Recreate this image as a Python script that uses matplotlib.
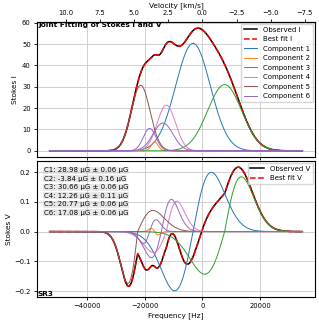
import numpy as np
import matplotlib.pyplot as plt

plt.rcParams['font.size'] = 5.0

#---    Gaussian components (offsets in Hz)
comp_names = ['Component 1', 'Component 2', 'Component 3', 'Component 4',
              'Component 5', 'Component 6', None]
comp_colors = ['tab:blue', 'tab:orange', 'tab:green', 'tab:pink',
               'tab:brown', 'tab:purple', 'tab:purple']
amp_I = [50.3, 4.2, 31.0, 21.4, 30.7, 13.0, 10.5]
cen_I = [-3240, -16530, 7730, -12480, -21380, -13650, -18270]
sig_I = [6000, 1200, 5900, 3190, 3240, 3440, 2200]

#---    Stokes V lobes per component: zero crossing, widths, lobe heights
cen_V = [-3240, -16530, 7730, -12480, -22425, -14200, -18270]
sigL_V = [6360, 1200, 6930, 4500, 3360, 3470, 2200]
sigR_V = [6360, 1200, 5770, 3650, 5300, 3470, 2200]
ampL_V = [0.199, -0.011, 0.143, 0.07, 0.174, 0.088, 0.04]
ampR_V = [0.199, -0.011, 0.184, 0.102, 0.071, 0.108, 0.04]

# fitted fields
b_field = [28.98, -3.84, 30.66, 12.26, 20.77, 17.08]
b_err = [0.06, 0.16, 0.06, 0.11, 0.06, 0.06]

freq = np.linspace(-52950, 34680, 1200)

c_kms = 299792.458
f0 = 1420405751.77


def f2v(f):
    return -c_kms * f / f0


def v2f(v):
    return -v * f0 / c_kms


def lobe(f, c, sl, sr, al, ar):
    s = np.where(f < c, sl, sr)
    a = np.where(f < c, al, ar)
    u = (f - c) / s
    return a * u * np.exp((1 - u**2) / 2)


comps_I = [a * np.exp(-(freq - c)**2 / (2 * s**2)) for a, c, s in zip(amp_I, cen_I, sig_I)]
comps_V = [lobe(freq, *p) for p in zip(cen_V, sigL_V, sigR_V, ampL_V, ampR_V)]
fit_I = np.sum(comps_I, axis=0)
fit_V = np.sum(comps_V, axis=0)

fig = plt.figure(figsize=(3.19, 3.21), dpi=100)
ax1 = fig.add_axes([37/319, 1 - 157/321, 278/319, 135/321])
ax2 = fig.add_axes([37/319, 1 - 297/321, 278/319, 136/321], sharex=ax1)

# Stokes I
ax1.plot(freq, fit_I, color='black', linewidth=1.1, label='Observed I')
ax1.plot(freq, fit_I, color='red', linestyle='--', linewidth=1.1, label='Best fit I')
for comp, col, name in zip(comps_I, comp_colors, comp_names):
    ax1.plot(freq, comp, color=col, linewidth=0.7, label=name if name else '_nolegend_')
ax1.set_ylabel('Stokes I', fontsize=5.3, labelpad=3)
ax1.grid(True, color='#d0d0d0', linewidth=0.7)
ax1.tick_params(labelbottom=False, length=2.5, width=0.6, pad=2, labelsize=4.9)
ax1.legend(loc='upper right', fontsize=5.0, framealpha=0.8, borderaxespad=0.3)
ax1.text(0.005, 1.0, 'Joint Fitting of Stokes I and V', transform=ax1.transAxes,
         va='top', ha='left', fontsize=5.3, weight='bold')

secax = ax1.secondary_xaxis('top', functions=(f2v, v2f))
secax.set_xticks([10, 7.5, 5, 2.5, 0, -2.5, -5, -7.5])
secax.tick_params(length=2.5, width=0.6, pad=2, labelsize=4.9)
secax.set_xlabel('Velocity [km/s]', labelpad=2, fontsize=5.3)

# Stokes V
ax2.plot(freq, fit_V, color='black', linewidth=1.1, label='Observed V')
ax2.plot(freq, fit_V, color='red', linestyle='--', linewidth=1.1, label='Best fit V')
for comp, col in zip(comps_V, comp_colors):
    ax2.plot(freq, comp, color=col, linewidth=0.7)
ax2.set_ylabel('Stokes V', fontsize=5.3, labelpad=2)
ax2.set_xlabel('Frequency [Hz]', labelpad=2, fontsize=5.3)
ax2.set_xticks([-40000, -20000, 0, 20000])
ax2.tick_params(length=2.5, width=0.6, pad=2, labelsize=4.9)
ax2.grid(True, color='#d0d0d0', linewidth=0.7)
ax2.legend(loc='upper right', fontsize=5.0, framealpha=0.8, borderaxespad=0.3)

for i, (b, e) in enumerate(zip(b_field, b_err)):
    ax2.text(0.025, 0.955 - i * 0.0625, 'C%d: %.2f \u03bcG \u00b1 %.2f \u03bcG' % (i + 1, b, e),
             transform=ax2.transAxes, va='top', ha='left', fontsize=5.0,
             bbox=dict(facecolor='lightgray', alpha=0.5, edgecolor='none', pad=0.4))
ax2.text(0.0, 0.0, 'SR3', transform=ax2.transAxes, va='bottom', ha='left',
         fontsize=5.3, weight='bold')

plt.savefig('out.png', dpi=100)
